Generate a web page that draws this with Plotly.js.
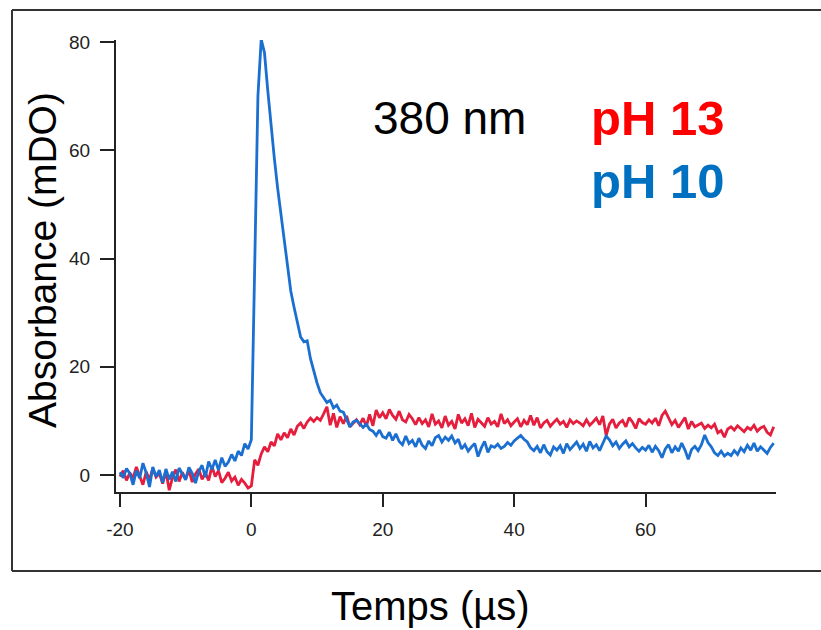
<!DOCTYPE html>
<html>
<head>
<meta charset="utf-8">
<script src="https://cdn.plot.ly/plotly-3.0.1.min.js"></script>
<style>html,body{margin:0;padding:0;background:#fff;}#chart{width:821px;height:630px;}</style>
</head>
<body>
<div id="chart"></div>
<script>
const tStart = -20;
const tStep = 0.5;

// pH 10 (blue) absorbance, mDO, one value per 0.5 µs from -20 µs
const ph10 = [
  0.5,-0.5,1.2,0.3,-1.8,0.8,-0.6,2.2,0.4,-2.2,1.5,-0.3,0.9,-1.4,1.1,-0.8,0.6,-1.2,1.3,0.2,
  -0.9,1.4,0.3,-1.5,0.7,1.8,-0.4,2.5,1.0,2.8,0.9,3.2,1.6,2.4,3.8,2.6,4.4,3.6,5.8,4.8,
  6.5,38,70,80.5,78,71,64.5,58.5,53,48.5,44,38.5,34,31,28,25.5,24.6,24.8,21.5,19,
  17,15.2,14.2,13.4,13.8,12.4,12.9,11.8,11.6,10.2,8.9,9.8,10.1,9.5,8.8,9.4,8.4,8.1,7.3,8.3,
  7.1,6.8,7.9,6.4,7.6,6.2,5.6,7.2,5.8,6.4,5.2,6.8,5.5,4.9,6.3,5.4,6.9,7.3,6.1,7.0,
  6.4,7.2,5.9,6.6,4.8,5.6,4.4,5.2,5.8,3.4,5.0,6.2,4.2,5.4,5.1,5.7,4.9,5.3,6.0,5.5,
  6.3,6.8,7.3,6.6,6.1,5.0,4.5,5.3,4.1,5.6,4.3,3.7,5.2,4.6,5.4,4.0,5.8,4.7,5.5,6.1,
  4.9,5.7,4.4,6.2,5.0,5.6,4.5,6.0,7.2,6.5,5.4,6.1,4.9,5.7,6.3,5.2,5.8,5.0,4.4,5.1,
  4.6,5.5,4.2,5.3,4.5,3.2,4.8,5.6,4.1,5.2,4.4,5.9,4.6,2.9,4.7,5.3,4.5,5.6,7.4,6.0,
  5.2,4.1,3.6,4.4,3.5,4.0,3.6,4.5,3.8,5.0,4.3,5.5,4.6,5.9,4.4,5.2,4.6,4.0,5.1,5.9
];

// pH 13 (red) absorbance, mDO, same grid
const ph13 = [
  -0.3,0.8,-1.0,0.4,-0.6,1.5,-0.2,-1.8,0.6,-0.9,1.2,-0.4,0.3,-1.6,0.7,-2.8,-0.5,1.0,-1.2,0.5,
  -0.7,0.9,-1.3,0.2,1.1,-0.8,0.4,-1.0,1.6,-0.3,0.8,-1.4,-0.6,0.5,-1.1,-0.4,-1.9,-0.8,-1.5,-2.4,
  -2.0,2.8,1.8,3.9,5.2,4.3,6.1,5.4,7.6,6.5,7.8,6.9,8.5,7.4,9.0,9.6,8.6,9.8,10.5,9.9,
  10.6,10.1,11.3,12.6,9.2,11.4,8.8,10.8,9.5,10.9,8.9,9.6,10.2,9.3,10.5,9.0,11.2,9.1,12.0,10.6,
  11.5,10.4,12.1,11.0,10.3,11.8,10.2,9.8,11.2,10.4,9.3,10.6,9.5,10.2,8.9,11.3,9.4,10.0,8.7,10.9,
  9.2,9.9,8.5,11.2,9.6,10.4,9.1,11.4,8.8,10.3,9.7,9.0,10.6,9.4,9.9,8.9,11.3,9.5,10.2,9.1,
  9.8,10.4,8.9,10.1,9.3,11.0,9.2,10.6,8.7,9.6,10.1,9.0,9.7,10.3,9.4,9.9,8.8,10.2,9.5,10.0,
  9.6,9.1,10.2,9.2,9.8,10.5,9.3,10.9,7.3,9.4,10.3,8.7,9.6,10.1,8.9,10.6,9.8,8.6,10.4,9.7,
  9.4,10.2,9.6,10.5,9.1,11.0,11.8,10.4,9.3,10.1,8.8,9.7,10.6,8.5,9.9,8.9,9.3,9.6,8.6,9.2,
  8.7,9.4,7.8,8.2,7.0,8.5,8.9,8.3,9.1,8.6,8.0,8.8,8.4,9.2,8.1,8.7,9.0,7.9,7.4,8.9
];

const xTicks = [-20, 0, 20, 40, 60];
const xTickText = ['-20', '0', '20', '40', '60'];
const yTicks = [0, 20, 40, 60, 80];
const yTickText = ['0', '20', '40', '60', '80'];
const xTitle = 'Temps (µs)';
const yTitle = 'Absorbance (mDO)';
const labelWave = '380 nm';
const labelRed = 'pH 13';
const labelBlue = 'pH 10';

const time = ph10.map((_, i) => tStart + i * tStep);

const axisCol = '#222';
const traces = [
  {x: time, y: ph13, type: 'scatter', mode: 'lines', line: {color: '#e41e3c', width: 2.8}, hoverinfo: 'skip'},
  {x: time, y: ph10, type: 'scatter', mode: 'lines', line: {color: '#1b6fd1', width: 2.8}, hoverinfo: 'skip'}
];

// plot area in pixels: x 116..776, y 40..492
const L = 116, R = 776, T = 40, B = 492;
const px = v => (v - L) / (R - L);
const py = v => (B - v) / (B - T);

const layout = {
  width: 821, height: 630,
  margin: {l: L, r: 821 - R, t: T, b: 630 - B, pad: 0},
  paper_bgcolor: '#fff', plot_bgcolor: '#fff',
  showlegend: false,
  font: {family: 'Arial, Liberation Sans, sans-serif', color: axisCol},
  xaxis: {
    range: [-20.6, 79.85], tickvals: xTicks, ticktext: xTickText, ticks: 'outside', ticklen: 13, tickwidth: 2, tickcolor: axisCol,
    showline: true, linewidth: 2, linecolor: axisCol, showgrid: false, zeroline: false,
    tickfont: {size: 19, color: axisCol}, ticklabelstandoff: 6
  },
  yaxis: {
    range: [-3.14, 80.37], tickvals: yTicks, ticktext: yTickText, ticks: 'outside', ticklen: 14, tickwidth: 2, tickcolor: axisCol,
    showline: true, linewidth: 2, linecolor: axisCol, showgrid: false, zeroline: false,
    tickfont: {size: 19, color: axisCol}, ticklabelstandoff: 6
  },
  shapes: [
    {type: 'line', xref: 'paper', yref: 'paper', x0: px(12), x1: px(821), y0: py(10), y1: py(10), line: {color: '#333', width: 2}},
    {type: 'line', xref: 'paper', yref: 'paper', x0: px(12), x1: px(821), y0: py(571), y1: py(571), line: {color: '#333', width: 2}},
    {type: 'line', xref: 'paper', yref: 'paper', x0: px(12), x1: px(12), y0: py(10), y1: py(571), line: {color: '#333', width: 2}}
  ],
  annotations: [
    {text: xTitle, xref: 'paper', yref: 'paper', x: px(430), y: py(606), xanchor: 'center', yanchor: 'middle', showarrow: false, font: {size: 40, color: '#000'}},
    {text: yTitle, xref: 'paper', yref: 'paper', x: px(42), y: py(260), xanchor: 'center', yanchor: 'middle', textangle: -90, showarrow: false, font: {size: 39, color: '#000'}},
    {text: labelWave, xref: 'paper', yref: 'paper', x: px(371), y: py(118), xanchor: 'left', yanchor: 'middle', showarrow: false, font: {size: 46, color: '#000'}},
    {text: '<b>' + labelRed + '</b>', xref: 'paper', yref: 'paper', x: px(589), y: py(118), xanchor: 'left', yanchor: 'middle', showarrow: false, font: {size: 49, color: '#ff0000'}},
    {text: '<b>' + labelBlue + '</b>', xref: 'paper', yref: 'paper', x: px(589), y: py(181), xanchor: 'left', yanchor: 'middle', showarrow: false, font: {size: 49, color: '#0070c0'}}
  ]
};

Plotly.newPlot('chart', traces, layout, {staticPlot: true, displayModeBar: false});
</script>
</body>
</html>
